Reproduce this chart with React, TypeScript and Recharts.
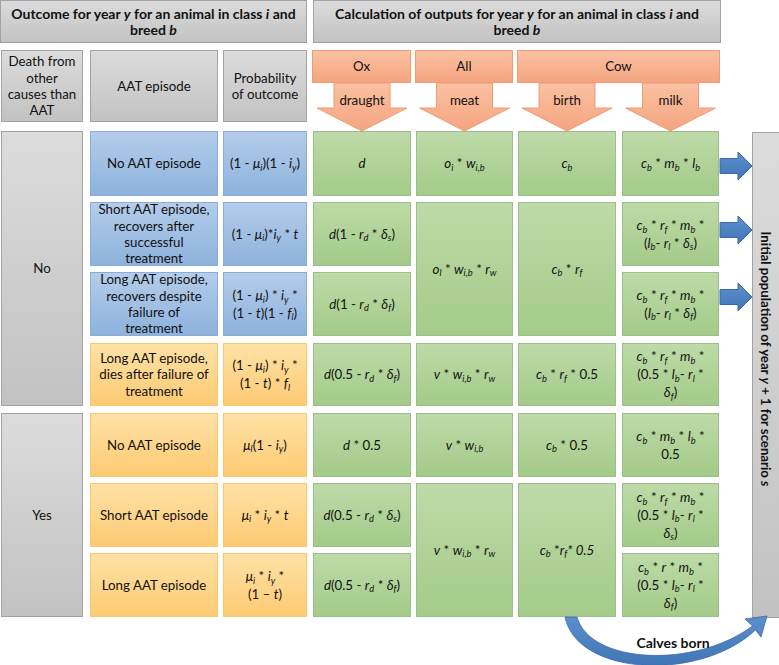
import React from "react"
import { ComposedChart, XAxis, YAxis, ReferenceArea } from "recharts"

// ---- content of the diagram ----
const headerOutcome = "Outcome for year [y] for an animal in class [i] and|breed [b]"
const headerCalculation = "Calculation of outputs for year [y] for an animal in class [i] and|breed [b]"
const outcomeColumns = ["Death from|other|causes than|AAT", "AAT episode", "Probability|of outcome"]
const animalGroups = ["Ox", "All", "Cow"]
const groupOutputs = [1, 1, 2]
const outputNames = ["draught", "meat", "birth", "milk"]

const deathOtherCauses = ["No", "No", "No", "No", "Yes", "Yes", "Yes"]
const aatEpisodes = [
  "No AAT episode",
  "Short AAT episode,|recovers after|successful|treatment",
  "Long AAT episode,|recovers despite|failure of|treatment",
  "Long AAT episode,|dies after failure of|treatment",
  "No AAT episode",
  "Short AAT episode",
  "Long AAT episode",
]
const animalSurvives = [true, true, true, false, false, false, false]
const probability = [
  "(1 - [μ]_{i})(1 - [i]_{y})",
  "(1 - [μ]_{i})*[i]_{y} * [t]",
  "(1 - [μ]_{i}) * [i]_{y} *|(1 - [t])(1 - [f]_{l})",
  "(1 - [μ]_{i}) * [i]_{y} *|(1 - [t]) * [f]_{l}",
  "[μ]_{l}(1 - [i]_{y})",
  "[μ]_{i} * [i]_{y} * [t]",
  "[μ]_{i} * [i]_{y} *|(1 – [t])",
]
const draught = [
  "[d]",
  "[d](1 - [r]_{d} * [δ]_{s})",
  "[d](1 - [r]_{d} * [δ]_{f})",
  "[d](0.5 - [r]_{d} * [δ]_{f})",
  "[d] * 0.5",
  "[d](0.5 - [r]_{d} * [δ]_{s})",
  "[d](0.5 - [r]_{d} * [δ]_{f})",
]
const meat = [
  "[o]_{i} * [w]_{i,b}",
  "[o]_{l} * [w]_{i,b} * [r]_{w}",
  "[o]_{l} * [w]_{i,b} * [r]_{w}",
  "[v] * [w]_{i,b} * [r]_{w}",
  "[v] * [w]_{i,b}",
  "[v] * [w]_{i,b} * [r]_{w}",
  "[v] * [w]_{i,b} * [r]_{w}",
]
const birth = [
  "[c]_{b}",
  "[c]_{b} * [r]_{f}",
  "[c]_{b} * [r]_{f}",
  "[c]_{b} * [r]_{f} * 0.5",
  "[c]_{b} * 0.5",
  "[c]_{b} *[r]_{f}[* 0.5]",
  "[c]_{b} *[r]_{f}[* 0.5]",
]
const milk = [
  "[c]_{b} * [m]_{b} * [l]_{b}",
  "[c]_{b} * [r]_{f} * [m]_{b} *|([l]_{b}- [r]_{l} * [δ]_{s})",
  "[c]_{b} * [r]_{f} * [m]_{b} *|([l]_{b}- [r]_{l} * [δ]_{f})",
  "[c]_{b} * [r]_{f} * [m]_{b} *|(0.5 * [l]_{b}- [r]_{l} *|[δ]_{f})",
  "[c]_{b} * [m]_{b} * [l]_{b} *|0.5",
  "[c]_{b} * [r]_{f} * [m]_{b} *|(0.5 * [l]_{b}- [r]_{l} *|[δ]_{s})",
  "[c]_{b} * [r] * [m]_{b} *|(0.5 * [l]_{b}- [r]_{l} *|[δ]_{f})",
]
const populationLabel = "Initial population of year [y] + 1 for scenario [s]"
const calvesLabel = "Calves born"

// ---- layout ----
const W = 779
const H = 665
const FONT = "Lato, 'Noto Sans', sans-serif"
const ROWS = [[131, 196], [202, 266], [272, 336], [343, 406], [413, 477], [483, 547], [553, 617]]
const COL_DEATH = [1, 83]
const COL_EPISODE = [90, 218]
const COL_PROB = [223, 307]
const COL_OUT = [[313, 411], [416, 513], [518, 616], [622, 719]]
const SIDE_ARROWS_Y = [166, 230, 297]

const styles: Record<string, { grad: string; stroke: string }> = {
  gray: { grad: "gGray", stroke: "#a3a3a3" },
  blue: { grad: "gBlue", stroke: "#8aacd6" },
  yellow: { grad: "gYellow", stroke: "#f7c770" },
  green: { grad: "gGreen", stroke: "#9fbb90" },
  salmon: { grad: "gSalmon", stroke: "#ec9c76" },
}

type Part = { t: string; it?: boolean; sub?: boolean }

function parse(s: string): Part[] {
  const out: Part[] = []
  let buf = ""
  let i = 0
  const flush = () => {
    if (buf) out.push({ t: buf })
    buf = ""
  }
  while (i < s.length) {
    const ch = s[i]
    if (ch === "[") {
      flush()
      const j = s.indexOf("]", i)
      out.push({ t: s.slice(i + 1, j), it: true })
      i = j + 1
    } else if (ch === "_" && s[i + 1] === "{") {
      flush()
      const j = s.indexOf("}", i)
      out.push({ t: s.slice(i + 2, j), it: true, sub: true })
      i = j + 1
    } else {
      buf += ch
      i++
    }
  }
  flush()
  return out
}

function parts(line: string, size: number) {
  let shift = 0
  return parse(line).map((p, k) => {
    const target = p.sub ? size * 0.2 : 0
    const dy = target - shift
    shift = target
    return (
      <tspan key={k} dy={dy || undefined} fontStyle={p.it ? "italic" : undefined} fontSize={p.sub ? size * 0.7 : undefined}>
        {p.t}
      </tspan>
    )
  })
}

type TextOpts = { size: number; lh: number; bold?: boolean }

function richText(text: string, cx: number, cy: number, o: TextOpts) {
  const lines = text.split("|")
  const first = cy - ((lines.length - 1) * o.lh) / 2 + o.size * 0.36
  return (
    <text textAnchor="middle" fontFamily={FONT} fontSize={o.size} fontWeight={o.bold ? 700 : 400} fill="#111" style={{ whiteSpace: "pre" }}>
      {lines.map((ln, k) => (
        <tspan key={k} x={cx} y={first + k * o.lh}>
          {parts(ln, o.size)}
        </tspan>
      ))}
    </text>
  )
}

const BODY: TextOpts = { size: 13.3, lh: 16.3 }
const FORM: TextOpts = { size: 13.3, lh: 17.8 }
const HEAD: TextOpts = { size: 14, lh: 16, bold: true }
const SIDE: TextOpts = { size: 13.2, lh: 16, bold: true }

function box(key: string, x: number[], y: number[], style: string, text: string, opts: TextOpts) {
  const s = styles[style]
  return (
    <ReferenceArea
      key={key}
      x1={x[0]}
      x2={x[1]}
      y1={y[0]}
      y2={y[1]}
      ifOverflow="visible"
      shape={(p: any) => (
        <g>
          <rect x={p.x + 0.5} y={p.y + 0.5} width={p.width - 1} height={p.height - 1} fill={`url(#${s.grad})`} stroke={s.stroke} />
          {richText(text, p.x + p.width / 2, p.y + p.height / 2, opts)}
        </g>
      )}
    />
  )
}

// merge consecutive identical values of a column into spanning cells
function spans(values: string[]) {
  const out: { text: string; from: number; to: number }[] = []
  values.forEach((v, i) => {
    const last = out[out.length - 1]
    if (last && last.text === v) last.to = i
    else out.push({ text: v, from: i, to: i })
  })
  return out
}

function column(name: string, values: string[], x: number[], styleOf: (row: number) => string, opts: TextOpts) {
  return spans(values).map((c) =>
    box(`${name}-${c.from}`, x, [ROWS[c.from][0], ROWS[c.to][1]], styleOf(c.from), c.text, opts)
  )
}

function downArrow(key: string, col: number[], label: string) {
  const cx = (col[0] + col[1]) / 2
  const stem = 56
  const head = 90
  return (
    <ReferenceArea
      key={key}
      x1={cx - head / 2}
      x2={cx + head / 2}
      y1={83}
      y2={131}
      ifOverflow="visible"
      shape={(p: any) => {
        const mx = p.x + p.width / 2
        const hy = p.y + 25
        const pts = [
          [mx - stem / 2, p.y],
          [mx + stem / 2, p.y],
          [mx + stem / 2, hy],
          [mx + head / 2, hy],
          [mx, p.y + p.height],
          [mx - head / 2, hy],
          [mx - stem / 2, hy],
        ]
        return (
          <g>
            <polygon points={pts.map((q) => q.join(",")).join(" ")} fill="url(#gSalmon)" stroke="#ec9c76" />
            {richText(label, mx, p.y + 17, BODY)}
          </g>
        )
      }}
    />
  )
}

function sideArrow(key: string, yc: number) {
  return (
    <ReferenceArea
      key={key}
      x1={720}
      x2={752}
      y1={yc - 14}
      y2={yc + 14}
      ifOverflow="visible"
      shape={(p: any) => {
        const my = p.y + p.height / 2
        const hx = p.x + 18
        const pts = [
          [p.x, my - 7.5],
          [hx, my - 7.5],
          [hx, p.y],
          [p.x + p.width, my],
          [hx, p.y + p.height],
          [hx, my + 7.5],
          [p.x, my + 7.5],
        ]
        return <polygon points={pts.map((q) => q.join(",")).join(" ")} fill="url(#gArrow)" stroke="#3b6aa6" />
      }}
    />
  )
}

export default function App() {
  const groupBoxes: React.ReactNode[] = []
  let oi = 0
  animalGroups.forEach((g, gi) => {
    const first = COL_OUT[oi]
    const last = COL_OUT[oi + groupOutputs[gi] - 1]
    groupBoxes.push(box(`grp-${gi}`, [first[0] - 1, last[1] + (gi === 2 ? 1 : 0)], [50, 83], "salmon", g, BODY))
    oi += groupOutputs[gi]
  })

  const outcomeStyle = (r: number) => (animalSurvives[r] ? "blue" : "yellow")

  return (
    <div style={{ width: W, height: H, background: "#fff" }}>
      <style>{`body{margin:0}`}</style>
      <ComposedChart width={W} height={H} data={[]} margin={{ top: 0, right: 0, bottom: 0, left: 0 }}>
        <defs>
          <linearGradient id="gGray" x1="0" y1="0" x2="0" y2="1">
            <stop offset="0%" stopColor="#dcdcdc" />
            <stop offset="100%" stopColor="#c2c2c2" />
          </linearGradient>
          <linearGradient id="gBlue" x1="0" y1="0" x2="0" y2="1">
            <stop offset="0%" stopColor="#b4cdea" />
            <stop offset="100%" stopColor="#8db2dd" />
          </linearGradient>
          <linearGradient id="gYellow" x1="0" y1="0" x2="0" y2="1">
            <stop offset="0%" stopColor="#ffe2a6" />
            <stop offset="100%" stopColor="#fdca73" />
          </linearGradient>
          <linearGradient id="gGreen" x1="0" y1="0" x2="0" y2="1">
            <stop offset="0%" stopColor="#bedaa8" />
            <stop offset="100%" stopColor="#a3cb88" />
          </linearGradient>
          <linearGradient id="gSalmon" x1="0" y1="0" x2="0" y2="1">
            <stop offset="0%" stopColor="#fbc1a3" />
            <stop offset="100%" stopColor="#f5a57f" />
          </linearGradient>
          <linearGradient id="gArrow" x1="0" y1="0" x2="0" y2="1">
            <stop offset="0%" stopColor="#5c8fcd" />
            <stop offset="100%" stopColor="#4076b6" />
          </linearGradient>
        </defs>
        <XAxis type="number" dataKey="x" domain={[0, W]} allowDataOverflow hide />
        <YAxis type="number" domain={[0, H]} allowDataOverflow reversed hide />

        {box("head-outcome", [0, 307], [0, 43], "gray", headerOutcome, HEAD)}
        {box("head-calc", [313, 721], [0, 43], "gray", headerCalculation, HEAD)}
        {box("col-death", COL_DEATH, [50, 122], "gray", outcomeColumns[0], BODY)}
        {box("col-episode", COL_EPISODE, [50, 122], "gray", outcomeColumns[1], BODY)}
        {box("col-prob", COL_PROB, [50, 122], "gray", outcomeColumns[2], BODY)}

        {outputNames.map((n, i) => downArrow(`arrow-${n}`, COL_OUT[i], n))}
        {groupBoxes}

        {column("death", deathOtherCauses, COL_DEATH, () => "gray", BODY)}
        {column("episode", aatEpisodes, COL_EPISODE, outcomeStyle, BODY)}
        {column("prob", probability, COL_PROB, outcomeStyle, FORM)}
        {column("draught", draught, COL_OUT[0], () => "green", FORM)}
        {column("meat", meat, COL_OUT[1], () => "green", FORM)}
        {column("birth", birth, COL_OUT[2], () => "green", FORM)}
        {column("milk", milk, COL_OUT[3], () => "green", FORM)}

        {SIDE_ARROWS_Y.map((y, i) => sideArrow(`side-${i}`, y))}

        <ReferenceArea
          x1={752}
          x2={779}
          y1={132}
          y2={618}
          ifOverflow="visible"
          shape={(p: any) => {
            const cx = p.x + p.width / 2
            const cy = p.y + p.height / 2 - 16
            return (
              <g>
                <rect x={p.x + 0.5} y={p.y + 0.5} width={p.width} height={p.height - 1} fill="url(#gGray)" stroke="#a3a3a3" />
                <g transform={`rotate(90 ${cx} ${cy})`}>{richText(populationLabel, cx, cy, SIDE)}</g>
              </g>
            )
          }}
        />

        <ReferenceArea
          x1={565}
          x2={770}
          y1={614}
          y2={665}
          ifOverflow="visible"
          shape={(p: any) => {
            const X = (v: number) => p.x + v
            const Y = (v: number) => p.y + v
            const d = [
              `M ${X(0)} ${Y(3)}`,
              `C ${X(12)} ${Y(62)}, ${X(135)} ${Y(68)}, ${X(190.5)} ${Y(16)}`,
              `L ${X(196)} ${Y(23)}`,
              `L ${X(202)} ${Y(2)}`,
              `L ${X(180)} ${Y(5)}`,
              `L ${X(187.5)} ${Y(12)}`,
              `C ${X(130)} ${Y(55)}, ${X(25)} ${Y(50)}, ${X(12)} ${Y(3)}`,
              "Z",
            ].join(" ")
            return (
              <g>
                <path d={d} fill="url(#gArrow)" stroke="#3b6aa6" strokeWidth={0.8} />
                {richText(calvesLabel, X(108), Y(29), HEAD)}
              </g>
            )
          }}
        />
      </ComposedChart>
    </div>
  )
}
